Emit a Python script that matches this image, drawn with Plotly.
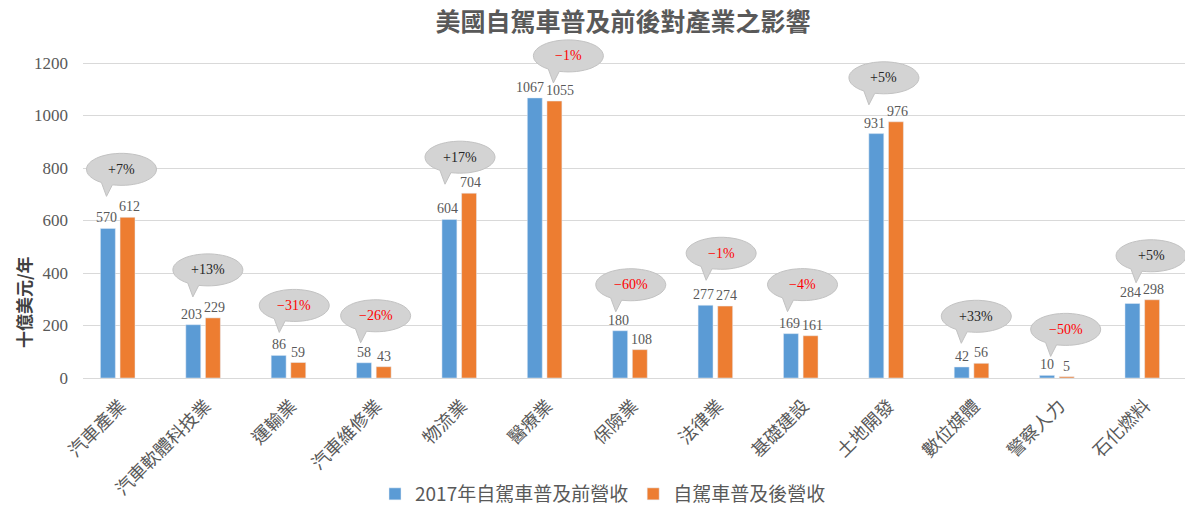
import math
import plotly.graph_objects as go

# Industries and revenue (billion USD / year) before and after self-driving adoption
categories = ["汽車產業", "汽車軟體科技業", "運輸業", "汽車維修業", "物流業", "醫療業", "保險業",
              "法律業", "基礎建設", "土地開發", "數位媒體", "警察人力", "石化燃料"]
revenue_before = [570, 203, 86, 58, 604, 1067, 180, 277, 169, 931, 42, 10, 284]
revenue_after = [612, 229, 59, 43, 704, 1055, 108, 274, 161, 976, 56, 5, 298]
change_labels = ["+7%", "+13%", "−31%", "−26%", "+17%", "−1%", "−60%", "−1%", "−4%",
                 "+5%", "+33%", "−50%", "+5%"]
y_ticks = [0, 200, 400, 600, 800, 1000, 1200]

series_names = ["2017年自駕車普及前營收", "自駕車普及後營收"]

# Speech-bubble placement, in pixels relative to the taller bar of each group
bubble_dx = [4, 5, 6, 2, 1, 24, 1, 6, 2, -2, 5, 9, 9]
bubble_dy = [48, 48, 50, 47, 36, 42, 46, 52, 49, 44, 47, 46, 44]

BLUE = "#5B9BD5"
ORANGE = "#ED7D31"
GREY_TEXT = "#595959"
SERIF = "Liberation Serif, Times New Roman, serif"
CJK = "Noto Sans CJK TC, Noto Sans CJK SC, sans-serif"

# Page geometry (pixels)
W, H = 1185, 506
PLOT_LEFT, PLOT_TOP, PLOT_BOTTOM = 83, 28, 378
PX_PER_UNIT = 315 / 1200          # 0..1200 spans 315 px
Y_TOP = (PLOT_BOTTOM - PLOT_TOP) / PX_PER_UNIT   # headroom above 1200 for bubbles
PLOT_W = W - PLOT_LEFT
PLOT_H = PLOT_BOTTOM - PLOT_TOP
X_RANGE = [-0.404, 12.503]
PX_PER_CAT = PLOT_W / (X_RANGE[1] - X_RANGE[0])

BAR_W = 0.175
OFFSETS = [-0.2, 0.03]
LABEL_SIZE = 14
DIGIT_W = 7.0   # approx. width of one digit at LABEL_SIZE

x = list(range(len(categories)))

fig = go.Figure()
for vals, name, color, off in [(revenue_before, series_names[0], BLUE, OFFSETS[0]),
                               (revenue_after, series_names[1], ORANGE, OFFSETS[1])]:
    fig.add_trace(go.Bar(
        x=x, y=vals, name=name, marker_color=color, width=BAR_W, offset=off,
    ))


def bubble_path(cx, cy, a=35, b=16, n=48):
    """Ellipse with a small tail pointing down-left, in pixel offsets."""
    start, end = 255, 235 + 360
    pts = []
    for k in range(n + 1):
        t = math.radians(start + (end - start) * k / n)
        pts.append((cx + a * math.cos(t), cy + b * math.sin(t)))
    pts.append((cx - 15, cy - 27))
    d = "M{:.1f},{:.1f}".format(*pts[0])
    for px, py in pts[1:]:
        d += " L{:.1f},{:.1f}".format(px, py)
    return d + " Z"


shapes = []
annotations = []

# Value labels above each bar; neighbours that would collide are nudged apart
centre_gap_px = (OFFSETS[1] - OFFSETS[0]) * PX_PER_CAT
for i in x:
    vb, va = revenue_before[i], revenue_after[i]
    wb, wa = DIGIT_W * len(str(vb)), DIGIT_W * len(str(va))
    overlap = (wb + wa) / 2 + 2 - centre_gap_px
    nudge = max(0.0, overlap / 2)
    for v, off, sh in [(vb, OFFSETS[0], -nudge), (va, OFFSETS[1], nudge)]:
        annotations.append(dict(
            x=i + off + BAR_W / 2, y=v, xref="x", yref="y",
            xanchor="center", yanchor="bottom", xshift=sh, yshift=1,
            text=str(v), showarrow=False,
            font=dict(family=SERIF, size=LABEL_SIZE, color=GREY_TEXT),
        ))

# Speech bubbles with the percentage change
for i, lbl in enumerate(change_labels):
    top = max(revenue_before[i], revenue_after[i])
    shapes.append(dict(
        type="path", xref="x", yref="y", xsizemode="pixel", ysizemode="pixel",
        xanchor=i, yanchor=top, path=bubble_path(bubble_dx[i], bubble_dy[i]),
        fillcolor="#d3d3d3", line=dict(color="#c2c2c2", width=1), layer="above",
    ))
    annotations.append(dict(
        x=i, y=top, xref="x", yref="y", xshift=bubble_dx[i], yshift=bubble_dy[i],
        text=lbl, showarrow=False,
        font=dict(family=SERIF, size=14,
                  color="#ff0000" if lbl.startswith("−") else "#262626"),
    ))

# Vertical axis title
annotations.append(dict(
    xref="x domain", yref="y domain",
    x=(23 - PLOT_LEFT) / PLOT_W, y=(PLOT_BOTTOM - 302) / PLOT_H,
    xanchor="center", yanchor="middle",
    text="十億美元/年", showarrow=False, textangle=-90,
    font=dict(family=CJK, size=17, color="#404040", weight="bold"),
))

fig.update_layout(
    width=W, height=H,
    margin=dict(l=PLOT_LEFT, r=0, t=PLOT_TOP, b=H - PLOT_BOTTOM, autoexpand=False),
    paper_bgcolor="white", plot_bgcolor="white",
    barmode="overlay",
    title=dict(
        text="美國自駕車普及前後對產業之影響",
        x=623 / W, xref="container", xanchor="center",
        y=1 - 22 / H, yref="container", yanchor="middle",
        font=dict(family=CJK, size=25, color=GREY_TEXT, weight="bold"),
    ),
    xaxis=dict(
        range=X_RANGE, tickvals=x, ticktext=categories, automargin=False,
        tickangle=-45, showgrid=False, zeroline=False, showline=False,
        ticks="", ticklabelstandoff=13, ticklabelshift=3,
        tickfont=dict(family=CJK, size=18, color=GREY_TEXT),
    ),
    yaxis=dict(
        range=[0, Y_TOP], tickvals=y_ticks, showgrid=True, gridcolor="#d9d9d9",
        gridwidth=1, zeroline=True, zerolinecolor="#d9d9d9", zerolinewidth=1,
        showline=False, ticks="", ticklabelstandoff=14, automargin=False,
        tickfont=dict(family=SERIF, size=17, color=GREY_TEXT),
    ),
    legend=dict(
        orientation="h", xref="container", yref="container",
        x=603 / W, xanchor="center", y=1 - 494 / H, yanchor="middle",
        font=dict(family=CJK, size=19, color=GREY_TEXT),
        itemwidth=30, bgcolor="rgba(0,0,0,0)",
    ),
    shapes=shapes,
    annotations=annotations,
    showlegend=True,
)

fig.write_html("out.html")
